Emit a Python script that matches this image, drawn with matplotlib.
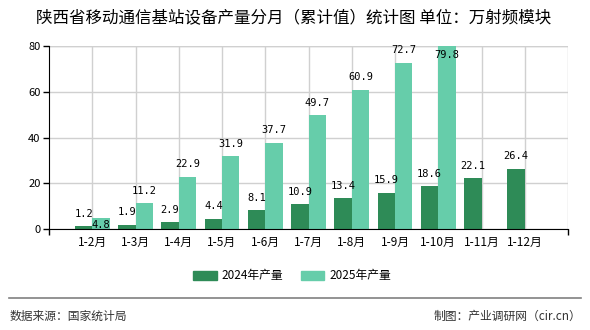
import matplotlib
matplotlib.use("Agg")
import matplotlib.pyplot as plt
import numpy as np
from matplotlib.patches import Patch

plt.rcParams['font.family'] = ['Noto Sans CJK SC', 'DejaVu Sans']

# -- data --
months = ['1-2月', '1-3月', '1-4月', '1-5月', '1-6月', '1-7月',
          '1-8月', '1-9月', '1-10月', '1-11月', '1-12月']
prod_2024 = [1.2, 1.9, 2.9, 4.4, 8.1, 10.9, 13.4, 15.9, 18.6, 22.1, 26.4]
prod_2025 = [4.8, 11.2, 22.9, 31.9, 37.7, 49.7, 60.9, 72.7, 79.8]

c2024 = '#2e8b57'
c2025 = '#66cdaa'

fig = plt.figure(figsize=(5.9, 3.3), dpi=100)
ax = fig.add_axes([49 / 590, 1 - 229 / 330, 519 / 590, 183 / 330])

x = np.arange(1, len(months) + 1)
w = 0.4
ax.bar(x[:len(prod_2024)] - w / 2, prod_2024, width=w, color=c2024, zorder=3)
ax.bar(x[:len(prod_2025)] + w / 2, prod_2025, width=w, color=c2025, zorder=3)

ax.set_xlim(0, 12)
ax.set_ylim(0, 80)
ax.set_yticks([0, 20, 40, 60, 80])
ax.set_xticks(x)
ax.set_xticklabels(months, fontsize=8.5)
ax.set_xticks(np.arange(0, 13), minor=True)
ax.tick_params(axis='x', which='major', length=0, pad=5)
ax.tick_params(axis='x', which='minor', length=4, width=1, direction='out')
ax.tick_params(axis='y', length=4, width=1, labelsize=8, pad=2)
ax.grid(True, color='#d0d0d0', linewidth=1, zorder=0)

for s in ['top', 'right']:
    ax.spines[s].set_visible(False)
ax.axhline(80, color='#d0d0d0', linewidth=1, zorder=0)
ax.axvline(12, color='#d0d0d0', linewidth=1, zorder=0)
ax.spines['left'].set_color('black')
ax.spines['bottom'].set_color('black')
ax.spines['bottom'].set_zorder(4)

# value labels (offsets from bar top, in points)
lab_font = dict(fontsize=7.5, family='DejaVu Sans Mono', ha='center', va='center', zorder=5)
for xi, v in zip(x, prod_2024):
    ax.annotate(f'{v}', (xi - w / 2, v), xytext=(0, 9), textcoords='offset points', **lab_font)
for i, (xi, v) in enumerate(zip(x, prod_2025)):
    dy = 9
    if i == 0:
        dy = -5         # pushed down next to the 1.2 label
    if v > 76:
        dy = -6.5       # no room above the axis top
    ax.annotate(f'{v}', (xi + w / 2, v), xytext=(0, dy), textcoords='offset points', **lab_font)

# title
fig.text(36 / 590, 1 - 18 / 330, '陕西省移动通信基站设备产量分月（累计值）统计图 单位：万射频模块',
         fontsize=11.9, va='center', ha='left')

# legend
handles = [Patch(color=c2024, label='2024年产量'), Patch(color=c2025, label='2025年产量')]
fig.legend(handles=handles, loc='center', bbox_to_anchor=(292 / 590, 1 - 276 / 330),
           ncol=2, frameon=False, fontsize=8.5, handlelength=2.0, handleheight=0.9,
           columnspacing=1.5, handletextpad=0.4)

# footer
fig.add_artist(plt.Line2D([9 / 590, 581 / 590], [1 - 298 / 330] * 2, color='#808080', linewidth=1.2))
fig.text(10 / 590, 1 - 316 / 330, '数据来源：国家统计局', fontsize=8.5, va='center', ha='left', color='#333333')
fig.text(581 / 590, 1 - 316 / 330, '制图：产业调研网（cir.cn）', fontsize=8.5, va='center', ha='right', color='#333333')

fig.savefig('out.png', dpi=100)
